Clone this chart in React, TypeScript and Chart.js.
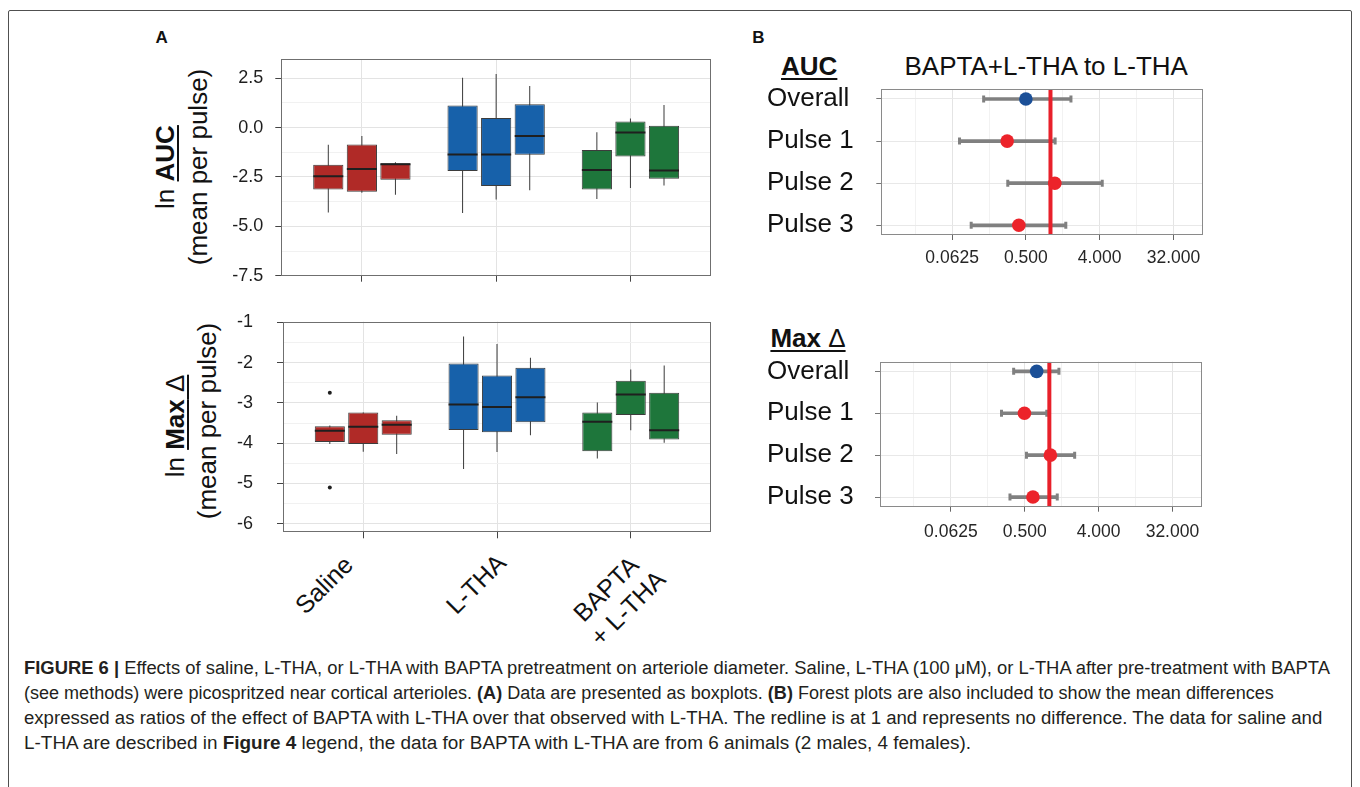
import React, { useEffect, useRef } from 'react';
import { Chart, registerables } from 'chart.js';

Chart.register(...registerables);

const FONT = "'Liberation Sans', Arial, Helvetica, sans-serif";

// ---------------- Panel A data (boxplots) ----------------
const GROUPS = ['Saline', 'L-THA', 'BAPTA + L-THA'];
const PULSES = ['Pulse 1', 'Pulse 2', 'Pulse 3'];
const GROUP_COLORS = ['#B02A27', '#1761AA', '#1E763B'];

// each entry: [lower whisker, Q1, median, Q3, upper whisker] for pulse 1, 2, 3
const AUC_SALINE = [
  [-4.30, -3.13, -2.46, -1.88, -0.87],
  [-3.30, -3.25, -2.10, -0.86, -0.42],
  [-3.40, -2.64, -1.85, -1.80, -1.75],
];
const AUC_LTHA = [
  [-4.33, -2.20, -1.36, 1.12, 2.52],
  [-3.64, -2.96, -1.36, 0.49, 2.72],
  [-3.17, -1.38, -0.43, 1.18, 2.11],
];
const AUC_BAPTA = [
  [-3.62, -3.13, -2.15, -1.13, -0.23],
  [-3.06, -1.46, -0.25, 0.31, 0.46],
  [-2.93, -2.59, -2.17, 0.09, 1.15],
];
// outliers: [group index, pulse index, value]
const AUC_OUTLIERS: number[][] = [];

const MAX_SALINE = [
  [-4.02, -3.97, -3.69, -3.58, -3.56],
  [-4.21, -4.02, -3.59, -3.24, -3.24],
  [-4.27, -3.79, -3.54, -3.43, -3.32],
];
const MAX_LTHA = [
  [-4.64, -3.67, -3.04, -2.02, -1.35],
  [-4.22, -3.73, -3.10, -2.32, -1.54],
  [-3.80, -3.48, -2.86, -2.13, -1.88],
];
const MAX_BAPTA = [
  [-4.38, -4.20, -3.47, -3.24, -2.99],
  [-3.68, -3.30, -2.79, -2.45, -2.17],
  [-3.99, -3.91, -3.68, -2.75, -2.07],
];
const MAX_OUTLIERS = [
  [0, 0, -2.75],
  [0, 0, -5.10],
];

const AUC_Y_TICKS = [-7.5, -5, -2.5, 0, 2.5];
const AUC_Y_LABELS = ['-7.5', '-5.0', '-2.5', '0.0', '2.5'];
const MAX_Y_TICKS = [-6, -5, -4, -3, -2, -1];
const MAX_Y_LABELS = ['-6', '-5', '-4', '-3', '-2', '-1'];

// ---------------- Panel B data (forest plots) ----------------
const FOREST_ROWS = ['Overall', 'Pulse 1', 'Pulse 2', 'Pulse 3'];
const AUC_RATIO = [0.50, 0.295, 1.13, 0.41];
const AUC_LOW = [0.152, 0.077, 0.30, 0.107];
const AUC_HIGH = [1.78, 1.14, 4.3, 1.54];
const MAX_RATIO = [0.70, 0.496, 1.03, 0.63];
const MAX_LOW = [0.366, 0.26, 0.525, 0.33];
const MAX_HIGH = [1.31, 0.93, 2.04, 1.25];
const FOREST_TICKS = [0.0625, 0.5, 4, 32];
const FOREST_TICK_LABELS = ['0.0625', '0.500', '4.000', '32.000'];
const NO_DIFFERENCE = 1;

// ---------------- styles ----------------
const DODGE = 0.25;
const GRID_MAJOR = '#e3e3e3';
const GRID_MINOR = '#f1f1f1';
const BORDER = '#6f6f6f';
const TICK = '#444444';
const OVERALL_COLOR = '#1B4F97';
const PULSE_COLOR = '#EC232A';
const RED_LINE = '#E8202A';
const ERR_COLOR = '#808080';

const panelBorder = {
  id: 'panelBorder',
  afterDraw(chart: any, _args: any, opts: any) {
    const { ctx, chartArea: a } = chart;
    ctx.save();
    ctx.strokeStyle = opts.color || BORDER;
    ctx.lineWidth = 1;
    const l = Math.round(a.left) + 0.5;
    const t = Math.round(a.top) + 0.5;
    const r = Math.round(a.right) - 0.5;
    const b = Math.round(a.bottom) - 0.5;
    ctx.strokeRect(l, t, r - l, b - t);
    ctx.restore();
  },
};

const near = (list: number[], v: number) => list.findIndex((t) => Math.abs(t - v) < 1e-6);

function boxConfig(stats: number[][][], outliers: number[][], yMin: number, yMax: number,
  yTicks: number[], yLabels: string[], g: any) {
  const whiskers: any[] = [];
  const boxes: any[] = [];
  const medians: any[] = [];
  const colors: string[] = [];
  stats.forEach((group, gi) => group.forEach((s, pi) => {
    const x = gi + 1 + (pi - 1) * DODGE;
    whiskers.push({ x, y: [s[0], s[4]] });
    boxes.push({ x, y: [s[1], s[3]] });
    medians.push({ x, y: s[2] });
    colors.push(GROUP_COLORS[gi]);
  }));
  const outPts = outliers.map(([gi, pi, v]) => ({ x: gi + 1 + (pi - 1) * DODGE, y: v }));
  const minor = yTicks.slice(1).map((v, i) => (v + yTicks[i]) / 2);
  const allTicks = [...yTicks, ...minor].sort((a, b) => a - b);
  return {
    type: 'bar',
    data: {
      datasets: [
        { type: 'bar', label: 'whisker', data: whiskers, backgroundColor: '#3a3a3a', barThickness: 1, inflateAmount: 0, grouped: false, order: 3 },
        { type: 'bar', label: 'box', data: boxes, backgroundColor: colors, borderColor: '#3c3c3c', borderWidth: 1, borderSkipped: false, barPercentage: 0.9, categoryPercentage: 1, grouped: false, order: 2 },
        { type: 'scatter', label: 'median', data: medians, pointStyle: 'line', pointRadius: 15, pointBorderWidth: 2, pointBorderColor: '#1f1f1f', pointBackgroundColor: '#1f1f1f', order: 1 },
        { type: 'scatter', label: 'outlier', data: outPts, pointRadius: 2, pointBackgroundColor: '#1f1f1f', pointBorderWidth: 0, order: 0 },
      ],
    },
    plugins: [panelBorder],
    options: {
      responsive: false,
      animation: false,
      layout: { autoPadding: false, padding: { left: 0, top: g.padTop, right: g.padRight, bottom: 0 } },
      plugins: { legend: { display: false }, tooltip: { enabled: false }, panelBorder: { color: BORDER } },
      scales: {
        x: {
          type: 'linear', min: 0.4, max: 3.6, bounds: 'data', offset: false,
          afterBuildTicks: (s: any) => { s.ticks = GROUPS.map((_, i) => ({ value: i + 1 })); },
          afterFit: (s: any) => { s.height = g.xAxisH; s.paddingLeft = 0; s.paddingRight = 0; },
          ticks: { autoSkip: false, padding: 0, callback: () => '' },
          grid: { offset: false, color: GRID_MAJOR, tickColor: TICK, tickLength: 6 },
          border: { display: false },
        },
        y: {
          type: 'linear', min: yMin, max: yMax, bounds: 'data',
          afterBuildTicks: (s: any) => { s.ticks = allTicks.map((v) => ({ value: v })); },
          afterFit: (s: any) => { s.width = g.yAxisW; s.paddingTop = 0; s.paddingBottom = 0; },
          ticks: {
            autoSkip: false, padding: g.labelPad, color: '#1e1e1e',
            font: { family: FONT, size: 18 },
            callback: (v: number) => { const i = near(yTicks, v); return i >= 0 ? yLabels[i] : ''; },
          },
          grid: {
            color: (ctx: any) => (near(yTicks, ctx.tick.value) >= 0 ? GRID_MAJOR : GRID_MINOR),
            tickColor: (ctx: any) => (near(yTicks, ctx.tick.value) >= 0 ? TICK : 'rgba(0,0,0,0)'),
            tickLength: 6,
          },
          border: { display: false },
        },
      },
    },
  };
}

function forestConfig(ratio: number[], low: number[], high: number[], g: any) {
  const points = ratio.map((r, i) => ({ x: r, y: i + 1 }));
  const colors = FOREST_ROWS.map((_, i) => (i === 0 ? OVERALL_COLOR : PULSE_COLOR));
  const bars = low.map((l, i) => ({ x: [l, high[i]], y: i + 1 }));
  const caps = [...low.map((l, i) => ({ x: l, y: i + 1 })), ...high.map((h, i) => ({ x: h, y: i + 1 }))];
  const yMin = 0.77;
  const yMax = 4.23;
  const refLine = [{ x: NO_DIFFERENCE, y: yMin }, { x: NO_DIFFERENCE, y: yMax }];
  const minorTicks = [
    FOREST_TICKS[0] / Math.sqrt(FOREST_TICKS[1] / FOREST_TICKS[0]),
    ...FOREST_TICKS.slice(1).map((v, i) => Math.sqrt(v * FOREST_TICKS[i])),
  ];
  const allTicks = [...minorTicks, ...FOREST_TICKS].sort((a, b) => a - b);
  const isMajor = (v: number) => FOREST_TICKS.some((t) => Math.abs(t - v) / t < 1e-6);
  return {
    type: 'scatter',
    data: {
      datasets: [
        { type: 'scatter', label: 'estimate', data: points, pointRadius: 6.8, pointBackgroundColor: colors, pointBorderWidth: 0, order: 0 },
        { type: 'line', label: 'no difference', data: refLine, borderColor: RED_LINE, borderWidth: 4, pointRadius: 0, order: 1 },
        { type: 'scatter', label: 'caps', data: caps, pointStyle: 'line', rotation: 90, pointRadius: 3.5, pointBorderWidth: 3, pointBorderColor: ERR_COLOR, order: 2 },
        { type: 'bar', label: 'ci', indexAxis: 'y', data: bars, backgroundColor: ERR_COLOR, barThickness: 3, grouped: false, order: 3 },
      ],
    },
    plugins: [panelBorder],
    options: {
      responsive: false,
      animation: false,
      layout: { autoPadding: false, padding: { left: 0, top: g.padTop, right: g.padRight, bottom: 0 } },
      plugins: { legend: { display: false }, tooltip: { enabled: false }, panelBorder: { color: '#8a8a8a' } },
      scales: {
        x: {
          type: 'logarithmic', min: Math.pow(2, -6.88), max: Math.pow(2, 6.19), bounds: 'data', beginAtZero: false, offset: false,
          afterBuildTicks: (s: any) => { s.ticks = allTicks.map((v) => ({ value: v })); },
          afterFit: (s: any) => { s.height = g.xAxisH; s.paddingLeft = 0; s.paddingRight = 0; },
          ticks: {
            autoSkip: false, maxRotation: 0, minRotation: 0, padding: g.xLabelPad, color: '#262626',
            font: { family: FONT, size: 17.5 },
            callback: (v: number) => { const i = FOREST_TICKS.findIndex((t) => Math.abs(t - v) / t < 1e-6); return i >= 0 ? FOREST_TICK_LABELS[i] : ''; },
          },
          grid: {
            offset: false,
            color: (ctx: any) => (isMajor(ctx.tick.value) ? '#e4e4e4' : '#f2f2f2'),
            tickColor: (ctx: any) => (isMajor(ctx.tick.value) ? '#666' : 'rgba(0,0,0,0)'),
            tickLength: 5,
          },
          border: { display: false },
        },
        y: {
          type: 'linear', reverse: true, min: yMin, max: yMax, bounds: 'data', offset: false,
          afterBuildTicks: (s: any) => { s.ticks = FOREST_ROWS.map((_, i) => ({ value: i + 1 })); },
          afterFit: (s: any) => { s.width = g.yAxisW; s.paddingTop = 0; s.paddingBottom = 0; },
          ticks: {
            autoSkip: false, crossAlign: 'far', color: '#111111',
            font: { family: FONT, size: 26 },
            callback: (v: number) => FOREST_ROWS[Math.round(v) - 1] || '',
          },
          grid: { offset: false, color: '#e8e8e8', tickColor: '#777', tickLength: 5 },
          border: { display: false },
        },
      },
    },
  };
}

function ChartCanvas({ left, top, width, height, make }: any) {
  const ref = useRef<HTMLCanvasElement>(null);
  useEffect(() => {
    const chart = new Chart(ref.current as HTMLCanvasElement, make());
    return () => chart.destroy();
  }, []);
  return (
    <canvas ref={ref} width={width} height={height}
      style={{ position: 'absolute', left, top, width, height }} />
  );
}

function T({ x, y, size, bold, rotate = 0, color = '#111', children }: any) {
  return (
    <div style={{
      position: 'absolute', left: x, top: y,
      transform: `translate(-50%, -50%) rotate(${rotate}deg)`,
      fontFamily: FONT, fontSize: size, fontWeight: bold ? 700 : 400,
      lineHeight: 1, whiteSpace: 'nowrap', color,
    }}>{children}</div>
  );
}

const U = ({ children }: any) => (
  <span style={{ textDecoration: 'underline', textDecorationThickness: '2px', textUnderlineOffset: '3px' }}>{children}</span>
);

function CapLine({ y, sx, children }: any) {
  return (
    <div style={{
      position: 'absolute', left: 24, top: y, transform: `translateY(-50%) scaleX(${sx})`, transformOrigin: '0 50%',
      fontFamily: FONT, fontSize: 18, lineHeight: 1, whiteSpace: 'nowrap', color: '#231f20',
    }}>{children}</div>
  );
}

export default function App() {
  return (
    <div style={{ position: 'absolute', left: 0, top: 0, width: 1360, height: 787, overflow: 'hidden', background: '#fff' }}>
      <div style={{ position: 'absolute', left: 8, top: 10, width: 1342, height: 820, border: '1px solid #505050', borderRadius: 2 }} />

      <T x={161.6} y={36.7} size={17} bold>A</T>
      <T x={758.3} y={36.7} size={17} bold>B</T>

      {/* Panel A: AUC */}
      <T x={165} y={166.7} size={26} rotate={-90}>ln <U><b>AUC</b></U></T>
      <T x={198} y={166.7} size={26} rotate={-90}>(mean per pulse)</T>
      <ChartCanvas left={200} top={50} width={520} height={240}
        make={() => boxConfig([AUC_SALINE, AUC_LTHA, AUC_BAPTA], AUC_OUTLIERS, -7.5, 3.46, AUC_Y_TICKS, AUC_Y_LABELS,
          { padTop: 9.3, padRight: 9, xAxisH: 14.3, yAxisW: 81.3, labelPad: 12 })} />

      {/* Panel A: Max delta */}
      <T x={174.5} y={426} size={26} rotate={-90}>ln <U><b>Max</b> Δ</U></T>
      <T x={207} y={421} size={26} rotate={-90}>(mean per pulse)</T>
      <ChartCanvas left={200} top={312} width={520} height={230}
        make={() => boxConfig([MAX_SALINE, MAX_LTHA, MAX_BAPTA], MAX_OUTLIERS, -6.21, -0.985, MAX_Y_TICKS, MAX_Y_LABELS,
          { padTop: 9.7, padRight: 9, xAxisH: 9.7, yAxisW: 83, labelPad: 24 })} />

      <T x={324} y={584.5} size={25} rotate={-45}>{GROUPS[0]}</T>
      <T x={475.5} y={584} size={25} rotate={-45}>{GROUPS[1]}</T>
      <T x={605.8} y={589.2} size={25} rotate={-45}>BAPTA</T>
      <T x={628} y={607.5} size={25} rotate={-45}>+ L-THA</T>

      {/* Panel B */}
      <T x={809.2} y={66} size={26}><U><b>AUC</b></U></T>
      <T x={1046.2} y={66} size={26}>BAPTA+L-THA to L-THA</T>
      <ChartCanvas left={767} top={84} width={443} height={190}
        make={() => forestConfig(AUC_RATIO, AUC_LOW, AUC_HIGH,
          { padTop: 5.3, padRight: 7.3, xAxisH: 39, yAxisW: 114.3, xLabelPad: 7.8 })} />

      <T x={808} y={338} size={26}><U><b>Max</b> Δ</U></T>
      <ChartCanvas left={767} top={356} width={443} height={190}
        make={() => forestConfig(MAX_RATIO, MAX_LOW, MAX_HIGH,
          { padTop: 5.7, padRight: 8.3, xAxisH: 39.3, yAxisW: 113, xLabelPad: 9.5 })} />

      {/* Caption */}
      <CapLine y={668} sx={1.022}><b>FIGURE 6 |</b> Effects of saline, L-THA, or L-THA with BAPTA pretreatment on arteriole diameter. Saline, L-THA (100 μM), or L-THA after pre-treatment with BAPTA</CapLine>
      <CapLine y={693} sx={1.002}>(see methods) were picospritzed near cortical arterioles. <b>(A)</b> Data are presented as boxplots. <b>(B)</b> Forest plots are also included to show the mean differences</CapLine>
      <CapLine y={718} sx={1.032}>expressed as ratios of the effect of BAPTA with L-THA over that observed with L-THA. The redline is at 1 and represents no difference. The data for saline and</CapLine>
      <CapLine y={743} sx={1.051}>L-THA are described in <b>Figure 4</b> legend, the data for BAPTA with L-THA are from 6 animals (2 males, 4 females).</CapLine>
    </div>
  );
}
